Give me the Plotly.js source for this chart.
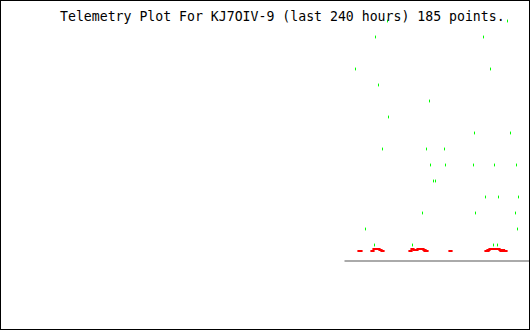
<!DOCTYPE html>
<html>
<head>
<meta charset="utf-8">
<script src="https://cdn.plot.ly/plotly-3.0.1.min.js"></script>
<style>
  html, body { margin: 0; padding: 0; background: #fff; }
  #frame { position: absolute; left: 0; top: 0; width: 530px; height: 330px; box-sizing: border-box; border: 1px solid #000; background: #fff; }
  #chart { width: 528px; height: 328px; }
</style>
</head>
<body>
<div id="frame"><div id="chart"></div></div>
<script>
// Telemetry series 1 (green): time position and level
const greenT = [387, 507, 375, 483, 355, 490, 378, 429, 388, 474, 510, 382, 426, 444,
                430, 445, 473, 494, 516, 433, 435, 485, 498, 518, 422, 475, 515, 365, 517,
                374, 412, 493, 497];
const greenV = [15, 15, 14, 14, 12, 12, 11, 10, 9, 8, 8, 7, 7, 7,
                6, 6, 6, 6, 6, 5, 5, 4, 4, 4, 3, 3, 3, 2, 2,
                1, 1, 1, 1];

// Telemetry series 2 (red): time position and level
const redT = [359, 360,
              372, 374, 376, 378, 380, 382,
              410, 412, 414, 416, 418, 420, 422, 424, 425, 426,
              450,
              486, 487, 488, 490, 492, 494, 496, 498, 500, 501, 502.5, 504, 505];
const redV = [0.625, 0.625,
              0.625, 0.75, 0.75, 0.75, 0.6875, 0.625,
              0.625, 0.75, 0.6875, 0.6875, 0.75, 0.75, 0.75, 0.6875, 0.625, 0.625,
              0.625,
              0.625, 0.625, 0.6875, 0.75, 0.75, 0.75, 0.75, 0.75, 0.6875, 0.625, 0.6875, 0.625, 0.625];

// Baseline extent
const baseT = [344, 529];
const titleText = "Telemetry Plot For KJ7OIV-9 (last 240 hours) 185 points.";

const traces = [
  {
    x: greenT, y: greenV, type: 'scatter', mode: 'markers',
    marker: { symbol: 'line-ns', size: 2, color: '#00ff00', line: { color: '#00ff00', width: 1 } },
    hoverinfo: 'skip'
  },
  {
    x: redT, y: redV, type: 'scatter', mode: 'markers',
    marker: { symbol: 'line-ew', size: 3, color: '#ff0000', line: { color: '#ff0000', width: 2 } },
    hoverinfo: 'skip'
  }
];

const layout = {
  width: 528, height: 328,
  margin: { l: 0, r: 0, t: 0, b: 0, pad: 0 },
  paper_bgcolor: '#ffffff', plot_bgcolor: '#ffffff',
  showlegend: false, hovermode: false,
  xaxis: { range: [0.5, 528.5], visible: false, fixedrange: true },
  yaxis: { range: [-4.25, 16.25], visible: false, fixedrange: true },
  shapes: [
    { type: 'line', xref: 'x', yref: 'y', x0: baseT[0], x1: baseT[1], y0: 0, y1: 0,
      line: { color: '#aaaaaa', width: 2 }, layer: 'below' }
  ],
  annotations: [
    { text: titleText, xref: 'x', yref: 'y', x: 57, y: 15.28, xanchor: 'left', yanchor: 'middle',
      showarrow: false, font: { family: 'DejaVu Sans Mono', size: 13.2, color: '#000000' } }
  ]
};

Plotly.newPlot('chart', traces, layout, { staticPlot: true, displayModeBar: false });
</script>
</body>
</html>
